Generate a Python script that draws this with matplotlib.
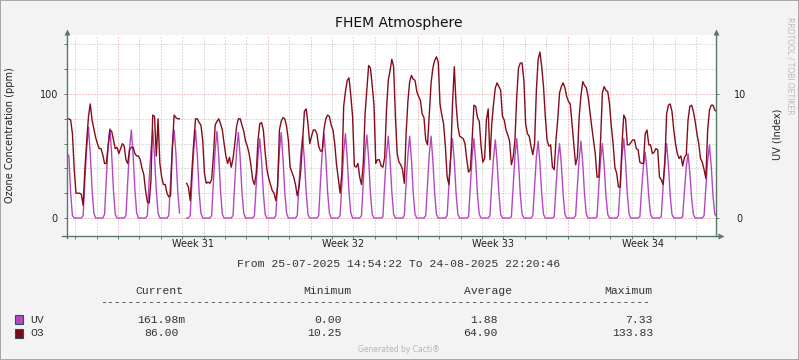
import numpy as np
import matplotlib.pyplot as plt
from matplotlib.patches import Rectangle

W, H = 799, 360
nan = float('nan')

# time axis in days relative to Mon 28-07-2025 00:00 (start of week 31)
t_start = -(2 + (9 * 3600 + 5 * 60 + 38) / 86400)   # 25-07-2025 14:54:22
t_end = 27 + (22 * 3600 + 20 * 60 + 46) / 86400     # 24-08-2025 22:20:46
first_sample = -3 + 15 / 24                         # 25-07 15:00, one sample every 2 h
step = 2 / 24

weeks = ['Week 31', 'Week 32', 'Week 33', 'Week 34']
week_start = [0, 7, 14, 21]

# ozone (ppm), one row per day, samples at 01,03,...,23 h
o3 = [
    80, 80, 79, 68, 39,                                      # 25-07 from 15h
    20, 20, 20, 19, 10.25, 40, 62, 82, 92, 79, 72, 65,       # 26-07
    60, 56, 56, 51, 44, 44, 58, 71, 70, 63, 56, 57,          # 27-07
    52, 56, 60, 58, 47, 44, 55, 57, 57, 52, 50, 50,          # 28-07
    47, 40, 35, 22, 13, 12, 30, 83, 82, 50, 80, 44,          # 29-07
    33, 27, 27, 20, 17, 18, 58, 83, 81, 80, 80, nan,         # 30-07
    nan, nan, 28, 25, 14, 39, 62, 80, 80, 77, 75, 63,        # 31-07
    36, 28, 29, 28, 31, 50, 75, 78, 80, 76, 71, 60,          # 01-08
    50, 44, 49, 41, 48, 60, 74, 80, 80, 75, 70, 62,          # 02-08
    58, 52, 43, 31, 27, 36, 63, 76, 77, 71, 53, 39,          # 03-08
    32, 27, 22, 20, 14, 25, 71, 78, 81, 80, 74, 63,          # 04-08
    41, 37, 33, 27, 18, 25, 39, 63, 86, 88, 76, 60,          # 05-08
    66, 71, 71, 68, 58, 54, 54, 72, 80, 83, 82, 75,          # 06-08
    71, 60, 43, 32, 20, 36, 90, 102, 111, 113, 99, 82,       # 07-08
    42, 41, 44, 33, 27, 44, 84, 103, 123, 121, 107, 91,      # 08-08
    44, 47, 47, 42, 41, 49, 87, 111, 119, 128, 122, 82,      # 09-08
    52, 45, 43, 39, 28, 68, 94, 110, 115, 112, 111, 102,     # 10-08
    98, 95, 84, 81, 63, 59, 84, 109, 121, 127, 130, 126,     # 11-08
    92, 83, 76, 58, 33, 27, 49, 92, 122, 92, 74, 66,         # 12-08
    65, 64, 60, 47, 37, 39, 63, 91, 90, 81, 78, 58,          # 13-08
    45, 48, 79, 88, 47, 76, 92, 105, 109, 106, 103, 82,      # 14-08
    79, 71, 67, 62, 43, 49, 63, 98, 121, 125, 125, 111,      # 15-08
    76, 68, 66, 58, 51, 60, 103, 128, 133.83, 122, 106, 82,  # 16-08
    63, 58, 59, 41, 39, 63, 80, 101, 106, 109, 105, 98,      # 17-08
    94, 92, 76, 60, 43, 49, 82, 99, 110, 107, 105, 98,       # 18-08
    86, 74, 63, 52, 33, 33, 63, 101, 106, 103, 102, 92,      # 19-08
    74, 60, 41, 36, 25, 25, 60, 83, 80, 59, 59, 61,          # 20-08
    63, 63, 56, 55, 45, 44, 44, 68, 71, 59, 59, 52,          # 21-08
    53, 56, 55, 33, 31, 27, 44, 84, 91, 92, 86, 71,          # 22-08
    60, 52, 48, 50, 42, 49, 51, 79, 90, 91, 86, 78,          # 23-08
    68, 60, 48, 45, 39, 32, 71, 87, 91, 91, 87, 86,          # 24-08
]

# UV index, same sampling
uv = [
    5.2, 5.0, 2.0, 0.2, 0,                                   # 25-07 from 15h
    0, 0, 0, 0, 0.2, 3.1, 5.7, 7.33, 5.2, 2.3, 0.4, 0,       # 26-07
    0, 0, 0, 0, 0.3, 3.2, 5.8, 7.2, 5.1, 2.2, 0.3, 0,        # 27-07
    0, 0, 0, 0, 0.2, 3.0, 5.6, 7.1, 5.1, 2.3, 0.4, 0,        # 28-07
    0, 0, 0, 0, 0.2, 3.1, 5.5, 7.1, 5.0, 2.2, 0.4, 0,        # 29-07
    0, 0, 0, 0, 0.2, 3.0, 5.6, 7.1, 5.2, 2.2, 0.4, nan,      # 30-07
    nan, nan, 0, 0, 0.2, 3.0, 5.5, 7.1, 5.0, 2.1, 0.4, 0,    # 31-07
    0, 0, 0, 0, 0.2, 2.9, 5.5, 7.0, 5.0, 2.2, 0.3, 0,        # 01-08
    0, 0, 0, 0, 0.2, 2.9, 5.4, 6.9, 4.9, 2.1, 0.4, 0,        # 02-08
    0, 0, 0, 0, 0.2, 2.7, 5.0, 6.4, 4.6, 2.0, 0.3, 0,        # 03-08
    0, 0, 0, 0, 0.2, 2.9, 5.4, 6.9, 4.8, 2.1, 0.4, 0,        # 04-08
    0, 0, 0, 0, 0.2, 2.8, 5.2, 6.6, 4.7, 2.1, 0.3, 0,        # 05-08
    0, 0, 0, 0, 0.2, 2.9, 5.3, 6.8, 4.9, 2.1, 0.4, 0,        # 06-08
    0, 0, 0, 0, 0.2, 2.8, 5.3, 6.8, 4.8, 2.1, 0.4, 0,        # 07-08
    0, 0, 0, 0, 0.2, 2.9, 5.3, 6.7, 4.8, 2.0, 0.3, 0,        # 08-08
    0, 0, 0, 0, 0.1, 2.8, 5.2, 6.6, 4.7, 2.1, 0.3, 0,        # 09-08
    0, 0, 0, 0, 0.2, 2.8, 5.1, 6.6, 4.7, 2.0, 0.3, 0,        # 10-08
    0, 0, 0, 0, 0.2, 2.7, 5.2, 6.6, 4.6, 2.0, 0.3, 0,        # 11-08
    0, 0, 0, 0, 0.2, 2.7, 5.0, 6.4, 4.6, 2.0, 0.3, 0,        # 12-08
    0, 0, 0, 0, 0.1, 2.6, 5.0, 6.4, 4.5, 1.9, 0.3, 0,        # 13-08
    0, 0, 0, 0, 0.2, 2.7, 4.9, 6.3, 4.5, 2.0, 0.3, 0,        # 14-08
    0, 0, 0, 0, 0.1, 2.6, 5.0, 6.4, 4.5, 1.9, 0.3, 0,        # 15-08
    0, 0, 0, 0, 0.2, 2.6, 4.9, 6.2, 4.4, 1.9, 0.3, 0,        # 16-08
    0, 0, 0, 0, 0.1, 2.5, 4.7, 6.0, 4.3, 1.9, 0.3, 0,        # 17-08
    0, 0, 0, 0, 0.2, 2.6, 4.8, 6.2, 4.4, 1.9, 0.3, 0,        # 18-08
    0, 0, 0, 0, 0.1, 2.6, 4.7, 6.0, 4.2, 1.8, 0.3, 0,        # 19-08
    0, 0, 0, 0, 0.2, 2.7, 5.0, 6.4, 4.5, 1.9, 0.3, 0,        # 20-08
    0, 0, 0, 0, 0.1, 2.3, 4.2, 5.3, 3.8, 1.7, 0.3, 0,        # 21-08
    0, 0, 0, 0, 0.1, 2.5, 4.7, 6.0, 4.3, 1.8, 0.3, 0,        # 22-08
    0, 0, 0, 0, 0.1, 2.2, 4.1, 5.2, 3.7, 1.6, 0.3, 0,        # 23-08
    0, 0, 0, 0, 0.2, 2.5, 4.6, 5.9, 4.2, 1.8, 0.3, 0.16,     # 24-08
]

# legend / statistics table
names = ['UV', 'O3']
current = ['161.98m', '86.00']
minimum = ['0.00', '10.25']
average = ['1.88', '64.90']
maximum = ['7.33', '133.83']

uv_color = '#B548C2'
o3_color = '#850C1C'
axis_color = '#587868'
minor_grid = '#BDBDBD'
major_grid = '#E88C8C'

t = first_sample + step * np.arange(len(o3))


def fx(x):
    return x / W


def fy(y):
    return 1 - y / H


fig = plt.figure(figsize=(W / 100, H / 100), dpi=100, facecolor='#F3F3F3')
fig.patch.set_edgecolor('#A8A8A8')
fig.patch.set_linewidth(1.2)

ax = fig.add_axes([fx(67), fy(236), 649 / W, 201.5 / H])
ax.set_facecolor('white')
ax2 = ax.twinx()

ax.set_xlim(t_start, t_end)
ax.set_ylim(-1.45, 14.8)
ax2.set_ylim(-14.5, 148)

# grid (drawn on the UV axis, 2 UV = 20 ppm), 1px dots
for d in range(-2, 28):
    ax.axvline(d, color=major_grid if d % 7 == 0 else minor_grid,
               lw=0.72, ls=(0, (1, 2)), zorder=0)
for v in range(0, 15, 2):
    ax.axhline(v, color=major_grid if v % 10 == 0 else minor_grid,
               lw=0.72, ls=(0, (1, 2)), zorder=0)

ax.plot(t, uv, color=uv_color, lw=1.0)
ax2.plot(t, o3, color=o3_color, lw=1.0)

for a in (ax, ax2):
    for s in a.spines.values():
        s.set_visible(False)

# x ticks: week names centred in each week, small ticks every day
ax.set_xticks([w + 3.5 for w in week_start], weeks)
ax.set_xticks(range(-2, 28), minor=True)
ax.tick_params(axis='x', which='major', length=0, pad=2.5, labelsize=7,
               labelcolor='#222222')
ax.tick_params(axis='x', which='minor', length=2, width=0.7, color=axis_color)

# right axis: UV index
ax.yaxis.tick_right()
ax.set_yticks([0, 10])
ax.tick_params(axis='y', length=2, width=0.7, color=axis_color, pad=15,
               labelsize=7, labelcolor='#222222')
for lbl in ax.get_yticklabels():
    lbl.set_horizontalalignment('center')

# left axis: ozone
ax2.yaxis.tick_left()
ax2.set_yticks([0, 100])
ax2.set_yticks([20, 40, 60, 80, 120, 140], minor=True)
ax2.tick_params(axis='y', which='major', length=2, width=0.7, color=axis_color,
                pad=4.5, labelsize=7, labelcolor='#222222')
ax2.tick_params(axis='y', which='minor', length=2, width=0.7, color=axis_color)

# axis lines with arrow heads
tr = ax2.transAxes
ax2.plot([0, 0], [-0.012, 1.0], color=axis_color, lw=1, transform=tr, clip_on=False)
ax2.plot([1, 1], [0, 1.0], color=axis_color, lw=1, transform=tr, clip_on=False)
ax2.plot([-0.008, 1.006], [0, 0], color=axis_color, lw=1, transform=tr, clip_on=False)
ax2.plot([0, 1], [1.012, 1.012], ls='none', marker='^', ms=4.5, color=axis_color,
         mec='none', transform=tr, clip_on=False)
ax2.plot([1.008], [0], ls='none', marker='>', ms=4.5, color=axis_color,
         mec='none', transform=tr, clip_on=False)

# titles and labels
fig.text(fx(399), fy(22.5), 'FHEM Atmosphere', ha='center', va='center',
         size=10, color='#111111')
fig.text(fx(10), fy(135), 'Ozone Concentration (ppm)', rotation=90,
         ha='center', va='center', size=7, color='#222222')
fig.text(fx(777.5), fy(134), 'UV (Index)', rotation=90,
         ha='center', va='center', size=7, color='#222222')
fig.text(fx(790), fy(66), 'RRDTOOL / TOBI OETIKER', rotation=270,
         ha='center', va='center', size=5.5, color='#BBBBBB')

mono = dict(family='Liberation Mono', size=8.2, color='#333333')
fig.text(fx(399), fy(267), 'From 25-07-2025 14:54:22 To 24-08-2025 22:20:46',
         ha='center', va='baseline', **mono)

# statistics table
col_head = ['Current', 'Minimum', 'Average', 'Maximum']
head_x = [159, 327.5, 488, 628]
for x, s in zip(head_x, col_head):
    fig.text(fx(x), fy(294.5), s, ha='center', va='baseline', **mono)
fig.text(fx(100), fy(305.5), '-' * 80, ha='left', va='baseline', **mono)

row_base = [322.7, 336]
box_top = [315.3, 329]
for i, name in enumerate(names):
    col = uv_color if name == 'UV' else '#7A0A18'
    fig.add_artist(Rectangle((fx(15), fy(box_top[i] + 9)), 8.3 / W, 9 / H,
                             transform=fig.transFigure, facecolor=col,
                             edgecolor='#2F4F4F', lw=0.8))
    fig.text(fx(30), fy(row_base[i]), name, ha='left', va='baseline', **mono)
    cur = current[i]
    fig.text(fx(185 if cur.endswith('m') else 178.3), fy(row_base[i]), cur,
             ha='right', va='baseline', **mono)
    fig.text(fx(342), fy(row_base[i]), minimum[i], ha='right', va='baseline', **mono)
    fig.text(fx(498), fy(row_base[i]), average[i], ha='right', va='baseline', **mono)
    fig.text(fx(653), fy(row_base[i]), maximum[i], ha='right', va='baseline', **mono)

fig.text(fx(399), fy(349), 'Generated by Cacti\u00ae', ha='center', va='center',
         size=5.5, color='#B5B5B5')

fig.savefig('out.png', dpi=100, facecolor=fig.get_facecolor(),
            edgecolor=fig.patch.get_edgecolor())
